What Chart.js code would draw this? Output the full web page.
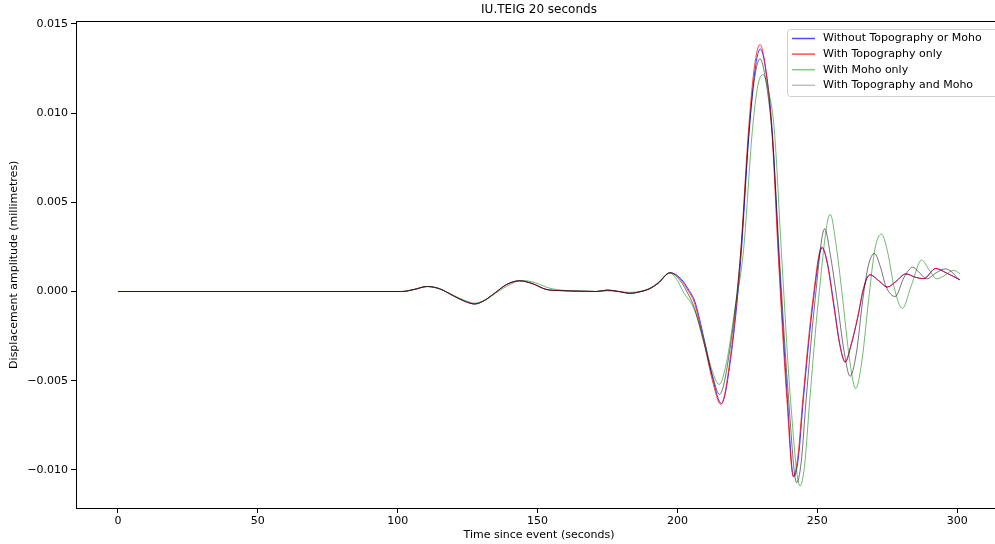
<!DOCTYPE html>
<html>
<head>
<meta charset="utf-8">
<script src="https://cdn.jsdelivr.net/npm/chart.js@4.4.0/dist/chart.umd.min.js"></script>
<style>
html, body { margin: 0; padding: 0; background: #fff; overflow: hidden; }
#wrap { width: 1012px; height: 544px; }
</style>
</head>
<body>
<div id="wrap"><canvas id="chart" width="1012" height="544"></canvas></div>
<script>
// values in units of 0.001 mm, times in seconds
const tEarly = [0, 101.5, 106, 110.5, 115, 120, 124, 127.5, 131, 135, 139, 143.5, 148, 153, 158, 165, 171, 175, 179, 183, 187, 190, 193, 197.4];
const vEarly = [0, 0, 0.12, 0.28, 0.15, -0.25, -0.55, -0.7, -0.5, -0.05, 0.4, 0.6, 0.45, 0.12, 0.05, 0.02, 0, 0.08, 0, -0.1, 0, 0.15, 0.45, 1.05];

const tBlue = [201.2, 204.2, 206.2, 209.5, 212.7, 215.7, 219, 222.6, 225.6, 227.7, 229.6, 231.7, 233.9, 236.3, 239.3, 241.5, 243.2, 245, 248.6, 251.7, 253.6, 255.9, 258.1, 260, 262.1, 264.4, 266.6, 268.8, 272, 275, 278, 281.6, 285, 288, 292.3, 296, 301];
const vBlue = [0.72, 0.05, -0.55, -2.65, -4.95, -6.28, -3.8, 1.75, 8.95, 12.4, 13.6, 12.3, 8.95, 1.75, -6.05, -10.4, -9.35, -6.05, -0.45, 2.45, 1.6, -0.7, -3.0, -3.95, -3.0, -1.5, 0.2, 0.93, 0.6, 0.25, 0.55, 0.98, 0.8, 0.72, 1.28, 1.05, 0.65];

const tRed = [201, 204, 206, 209.3, 212.5, 215.5, 218.8, 222.4, 225.4, 227.5, 229.5, 231.5, 233.7, 236.1, 239.1, 241.4, 243, 244.8, 248.4, 251.6, 253.5, 255.75, 258, 259.9, 262, 264.3, 266.5, 268.7, 272, 275, 278, 281.6, 285, 288, 292.3, 296, 301];
const vRed = [0.7, 0.0, -0.6, -2.7, -5.0, -6.33, -3.8, 1.79, 9.08, 12.6, 13.85, 12.5, 9.08, 1.79, -6.05, -10.35, -9.3, -6.05, -0.45, 2.5, 1.6, -0.7, -3.0, -3.96, -3.0, -1.5, 0.2, 0.95, 0.6, 0.25, 0.55, 1.0, 0.8, 0.72, 1.3, 1.05, 0.65];

const tGreenEarly = [0, 101.5, 106, 110.5, 115, 120, 124, 127.5, 131, 135, 139, 144.5, 149, 154, 159, 165, 171, 175, 179, 183, 187, 190, 193, 197.2];
const vGreenEarly = [0, 0, 0.12, 0.28, 0.15, -0.22, -0.5, -0.65, -0.5, -0.1, 0.3, 0.62, 0.5, 0.2, 0.07, 0.02, 0, 0.03, 0, -0.05, 0.02, 0.18, 0.5, 1.05];
const tGreen = [200, 202, 205.7, 209.3, 212.3, 214.9, 217.5, 220.5, 223.6, 226.8, 228.8, 230.7, 232.6, 234.6, 237.3, 240.4, 243.8, 245.4, 247.3, 250.4, 254.6, 256.8, 259.15, 261.5, 263.7, 266, 268.3, 270.6, 272.9, 275, 277.5, 280.4, 283.5, 287.3, 290, 292.7, 295.5, 298.7, 301];
const vGreen = [0.6, 0.0, -0.9, -2.6, -4.4, -5.21, -4.0, -1.0, 2.3, 9.08, 11.6, 12.16, 11.2, 9.08, 1.79, -6.05, -10.91, -9.8, -6.05, -0.45, 4.32, 2.5, -0.56, -3.8, -5.44, -3.8, -0.5, 2.4, 3.22, 2.3, 0.2, -0.95, 0.3, 1.76, 1.2, 0.71, 0.9, 1.19, 1.0];

const tGray = [201, 204, 206, 209.3, 212.5, 215, 218.5, 222.5, 225.6, 227.6, 229.5, 231.6, 234, 236.6, 239.7, 242.6, 244.2, 246, 249.2, 252.6, 254.8, 257.15, 259.5, 261.7, 264, 266.2, 268.3, 270.4, 272.5, 274.5, 277.8, 281, 284.1, 286.8, 289.1, 292.5, 295.7, 298, 300.5];
const vGray = [0.6, -0.2, -0.9, -2.8, -4.7, -5.77, -3.5, 2.0, 9.0, 12.0, 13.04, 11.8, 8.5, 1.5, -6.0, -10.72, -9.6, -6.05, -0.45, 3.51, 1.9, -0.6, -3.3, -4.75, -3.4, -0.5, 1.5, 2.13, 1.4, 0.3, -0.28, 0.8, 1.36, 1.0, 0.71, 1.05, 1.27, 1.1, 0.67];

const xTicks = [0, 50, 100, 150, 200, 250, 300];
const yTicks = [-0.010, -0.005, 0.000, 0.005, 0.010, 0.015];
const yTickLabels = ["\u22120.010", "\u22120.005", "0.000", "0.005", "0.010", "0.015"];

const seriesNames = ["Without Topography or Moho", "With Topography only", "With Moho only", "With Topography and Moho"];

function pts(ts, vs) {
    return ts.map(function(t, i){ return { x: t, y: vs[i] / 1000 }; });
}

const FONT = "DejaVu Sans";

const lineColors = ["rgba(0,0,255,0.75)", "rgba(255,0,0,0.75)", "rgba(0,128,0,0.55)", "rgba(0,0,0,0.55)"];
const legendColors = ["rgba(0,0,255,0.7)", "rgba(255,0,0,0.7)", "rgba(0,128,0,0.45)", "rgba(0,0,0,0.25)"];

const datasets = [
    pts(tEarly.concat(tBlue), vEarly.concat(vBlue)),
    pts(tEarly.concat(tRed), vEarly.concat(vRed)),
    pts(tGreenEarly.concat(tGreen), vGreenEarly.concat(vGreen)),
    pts(tEarly.concat(tGray), vEarly.concat(vGray))
].map(function(d, i){
    return {
        label: seriesNames[i],
        data: d,
        borderColor: lineColors[i],
        borderWidth: 1,
        pointRadius: 0,
        fill: false,
        cubicInterpolationMode: 'monotone',
        order: 3 - i
    };
});

const framePlugin = {
    id: 'frame',
    afterDraw(chart) {
        const ctx = chart.ctx;
        const a = chart.chartArea;
        ctx.save();
        // top spine
        ctx.strokeStyle = '#000';
        ctx.lineWidth = 1;
        ctx.beginPath();
        ctx.moveTo(a.left, Math.floor(a.top) + 0.5);
        ctx.lineTo(a.right, Math.floor(a.top) + 0.5);
        ctx.stroke();

        // title
        ctx.fillStyle = '#000';
        ctx.font = '12px "' + FONT + '"';
        ctx.textAlign = 'center';
        ctx.textBaseline = 'middle';
        ctx.fillText("IU.TEIG 20 seconds", (a.left + a.right) / 2, 10);

        // legend box
        const bx = 787.5, by = 29.5, bw = 240, bh = 67, r = 3;
        ctx.beginPath();
        ctx.moveTo(bx + r, by);
        ctx.lineTo(bx + bw - r, by);
        ctx.arcTo(bx + bw, by, bx + bw, by + r, r);
        ctx.lineTo(bx + bw, by + bh - r);
        ctx.arcTo(bx + bw, by + bh, bx + bw - r, by + bh, r);
        ctx.lineTo(bx + r, by + bh);
        ctx.arcTo(bx, by + bh, bx, by + bh - r, r);
        ctx.lineTo(bx, by + r);
        ctx.arcTo(bx, by, bx + r, by, r);
        ctx.closePath();
        ctx.fillStyle = 'rgba(255,255,255,0.85)';
        ctx.fill();
        ctx.strokeStyle = '#d0d0d0';
        ctx.stroke();

        ctx.font = '11px "' + FONT + '"';
        ctx.textAlign = 'left';
        for (let i = 0; i < seriesNames.length; i++) {
            const y = 38.5 + i * 15.6;
            ctx.strokeStyle = legendColors[i];
            ctx.lineWidth = 1.5;
            ctx.beginPath();
            ctx.moveTo(792, y);
            ctx.lineTo(815, y);
            ctx.stroke();
            ctx.fillStyle = '#000';
            ctx.fillText(seriesNames[i], 823, y);
        }
        ctx.restore();
    }
};

new Chart(document.getElementById('chart').getContext('2d'), {
    type: 'line',
    data: { datasets: datasets },
    plugins: [framePlugin],
    options: {
        responsive: false,
        animation: false,
        devicePixelRatio: 1,
        layout: { padding: { top: 21.5, right: 10, left: 0, bottom: 0 } },
        plugins: {
            legend: { display: false },
            tooltip: { enabled: false },
            title: { display: false }
        },
        scales: {
            x: {
                type: 'linear',
                min: -15,
                max: 316,
                afterFit: function(s){ s.height = 36; },
                afterBuildTicks: function(s){ s.ticks = xTicks.map(function(v){ return { value: v }; }); },
                ticks: {
                    color: '#000',
                    font: { family: FONT, size: 11 },
                    padding: 2,
                    maxRotation: 0,
                    callback: function(v){ return String(v); }
                },
                grid: { drawOnChartArea: false, drawTicks: true, tickLength: 5, tickColor: '#000', tickWidth: 1 },
                border: { color: '#000', width: 1 },
                title: {
                    display: true,
                    text: 'Time since event (seconds)',
                    color: '#000',
                    font: { family: FONT, size: 11 },
                    padding: { top: 0, bottom: 2.5 }
                }
            },
            y: {
                type: 'linear',
                min: -0.01214,
                max: 0.01514,
                afterFit: function(s){ s.width = 76; },
                afterBuildTicks: function(s){ s.ticks = yTicks.map(function(v){ return { value: v }; }); },
                ticks: {
                    color: '#000',
                    font: { family: FONT, size: 11 },
                    padding: 3,
                    callback: function(v, i){ return yTickLabels[i]; }
                },
                grid: { drawOnChartArea: false, drawTicks: true, tickLength: 5, tickColor: '#000', tickWidth: 1 },
                border: { color: '#000', width: 1 },
                title: {
                    display: true,
                    text: 'Displacement amplitude (millimetres)',
                    color: '#000',
                    font: { family: FONT, size: 11 },
                    padding: { top: 7.5, bottom: 0 }
                }
            }
        }
    }
});
</script>
</body>
</html>
